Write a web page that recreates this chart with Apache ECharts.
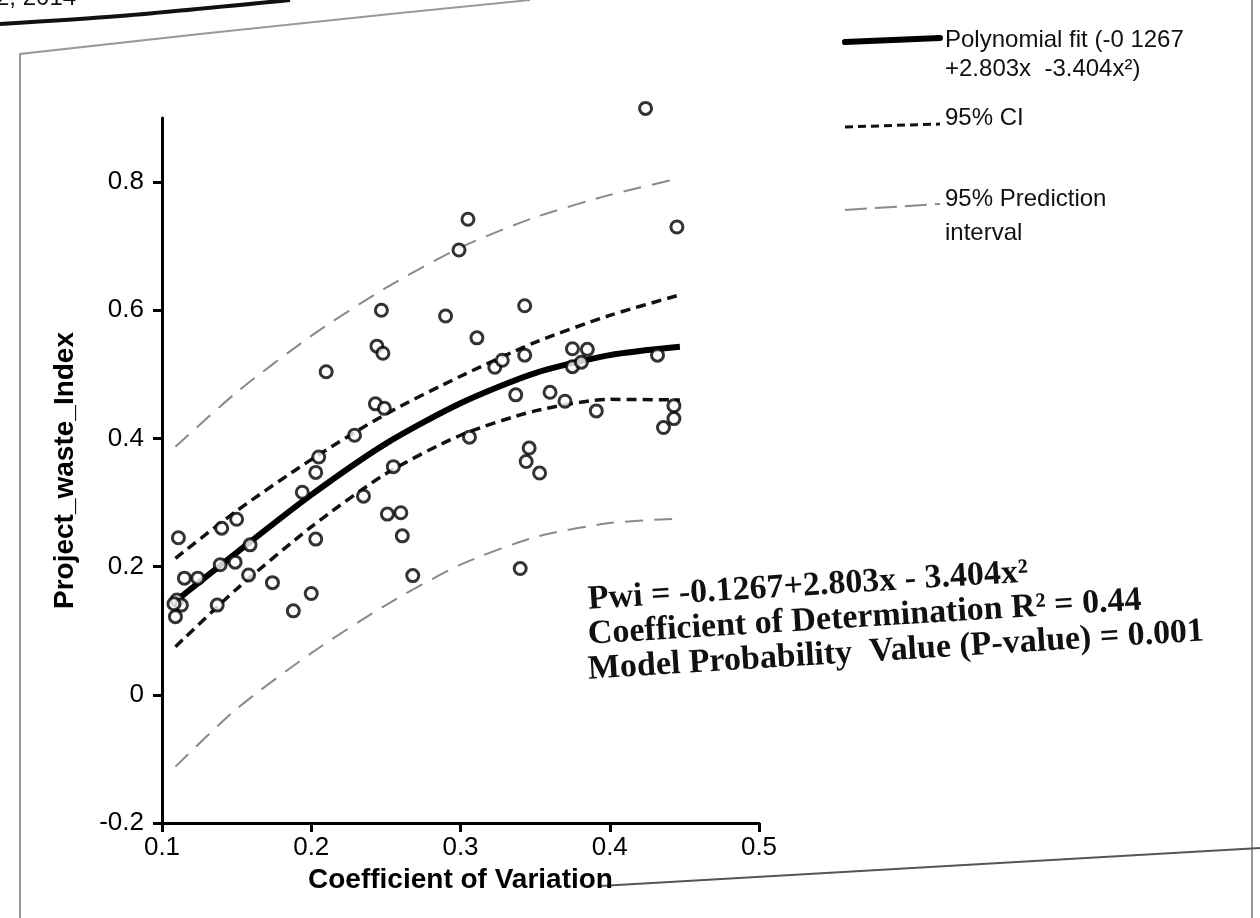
<!DOCTYPE html>
<html>
<head>
    <meta charset="utf-8">
    <title>Project waste index vs coefficient of variation</title>
    <style>
        html, body { margin: 0; padding: 0; background: #fff; }
        #main { width: 1260px; height: 918px; }
    </style>
</head>
<body>
<div id="main"></div>
<script src="https://cdn.jsdelivr.net/npm/echarts@6.0.0/dist/echarts.min.js"></script>
<script>
    var cvValues = [0.424, 0.305, 0.299, 0.445, 0.247, 0.290, 0.343, 0.311, 0.244, 0.248,
        0.210, 0.375, 0.385, 0.432, 0.375, 0.381, 0.323, 0.328, 0.343, 0.243,
        0.249, 0.229, 0.337, 0.360, 0.370, 0.391, 0.443, 0.443, 0.436, 0.306,
        0.346, 0.344, 0.353, 0.205, 0.203, 0.194, 0.255, 0.235, 0.251, 0.260,
        0.261, 0.203, 0.268, 0.340, 0.174, 0.200, 0.188, 0.137, 0.111, 0.140,
        0.150, 0.159, 0.149, 0.139, 0.115, 0.124, 0.158, 0.110, 0.113, 0.109, 0.108];
    var pwiValues = [0.915, 0.742, 0.694, 0.730, 0.600, 0.591, 0.607, 0.557, 0.544, 0.533,
        0.504, 0.540, 0.539, 0.530, 0.512, 0.519, 0.511, 0.522, 0.530, 0.454,
        0.447, 0.405, 0.468, 0.472, 0.458, 0.443, 0.451, 0.431, 0.417, 0.402,
        0.385, 0.364, 0.346, 0.371, 0.347, 0.316, 0.356, 0.310, 0.282, 0.284,
        0.248, 0.243, 0.186, 0.197, 0.175, 0.158, 0.131, 0.140, 0.245, 0.260,
        0.274, 0.234, 0.207, 0.203, 0.182, 0.182, 0.187, 0.148, 0.140, 0.122, 0.142];

    // curves
    var curveX = [0.109, 0.15, 0.2, 0.25, 0.3, 0.35, 0.4, 0.447];
    var fitY = [0.146, 0.222, 0.312, 0.392, 0.455, 0.502, 0.530, 0.543];
    var ciUpperY = [0.213, 0.287, 0.367, 0.438, 0.497, 0.550, 0.592, 0.624];
    var ciLowerY = [0.075, 0.165, 0.262, 0.345, 0.405, 0.443, 0.461, 0.460];
    var piUpperY = [0.387, 0.472, 0.560, 0.635, 0.698, 0.745, 0.780, 0.806];
    var piLowerY = [-0.112, -0.022, 0.065, 0.140, 0.203, 0.246, 0.268, 0.275];

    var yTicks = [-0.2, 0, 0.2, 0.4, 0.6, 0.8];

    function pairs(xs, ys) {
        var out = [];
        for (var i = 0; i < xs.length; i++) out.push([xs[i], ys[i]]);
        return out;
    }

    var chart = echarts.init(document.getElementById('main'), null, {renderer: 'canvas'});
    var sans = 'Liberation Sans, Arial, sans-serif';
    var serif = 'Liberation Serif, Times New Roman, serif';

    function curve(name, ys, color, width, dash) {
        return {
            name: name,
            type: 'line',
            smooth: 0.25,
            symbol: 'none',
            data: pairs(curveX, ys),
            lineStyle: {color: color, width: width, type: dash}
        };
    }

    var option = {
        backgroundColor: '#ffffff',
        animation: false,
        grid: {left: 162, right: 501, top: 118, bottom: 95},
        xAxis: {
            type: 'value',
            min: 0.1,
            max: 0.5,
            interval: 0.1,
            splitLine: {show: false},
            axisLine: {onZero: false, lineStyle: {color: '#000', width: 3}},
            axisTick: {show: true, length: 9, lineStyle: {color: '#000', width: 3}},
            axisLabel: {color: '#000', fontSize: 26, fontFamily: sans, margin: 12},
            name: 'Coefficient of Variation',
            nameLocation: 'middle',
            nameGap: 50,
            nameTextStyle: {color: '#000', fontSize: 28, fontWeight: 'bold', fontFamily: sans,
                align: 'center', verticalAlign: 'middle'}
        },
        yAxis: {
            type: 'value',
            min: -0.2,
            max: 0.9,
            splitLine: {show: false},
            axisLine: {onZero: false, lineStyle: {color: '#000', width: 3}},
            axisTick: {show: true, length: 9, customValues: yTicks, lineStyle: {color: '#000', width: 3}},
            axisLabel: {
                color: '#000', fontSize: 26, fontFamily: sans, margin: 18,
                customValues: yTicks,
                formatter: function (v) { return String(Math.round(v * 10) / 10); }
            },
            name: 'Project_waste_Index',
            nameLocation: 'middle',
            nameGap: 97,
            nameTextStyle: {color: '#000', fontSize: 28, fontWeight: 'bold', fontFamily: sans,
                align: 'center', verticalAlign: 'middle'}
        },
        series: [
            curve('95% Prediction interval', piUpperY, '#8a8a8a', 2, [18, 11]),
            curve('95% Prediction interval low', piLowerY, '#8a8a8a', 2, [18, 11]),
            curve('95% CI', ciUpperY, '#111', 3.5, [10, 6]),
            curve('95% CI low', ciLowerY, '#111', 3.5, [10, 6]),
            curve('Polynomial fit', fitY, '#000', 6, 'solid'),
            {
                name: 'Projects',
                type: 'scatter',
                z: 5,
                clip: false,
                symbol: 'circle',
                symbolSize: 12,
                data: pairs(cvValues, pwiValues),
                itemStyle: {color: '#fff', borderColor: '#000', borderWidth: 3}
            }
        ],
        graphic: [
            // bits of the scanned page
            {type: 'text', left: -4, top: -14, style: {text: '2, 2014', font: '24px ' + sans, fill: '#111'}},
            {type: 'polyline', shape: {points: [[0, 24], [120, 16], [290, 0]], smooth: 0.3},
                style: {stroke: '#111', lineWidth: 4, fill: null}},
            {type: 'polyline', shape: {points: [[20, 918], [20, 54], [200, 34], [400, 13], [530, 0]]},
                style: {stroke: '#999', lineWidth: 2, fill: null}},
            {type: 'line', shape: {x1: 1252, y1: 0, x2: 1252, y2: 918}, style: {stroke: '#999', lineWidth: 2}},
            {type: 'line', shape: {x1: 600, y1: 886, x2: 1260, y2: 848}, style: {stroke: '#555', lineWidth: 2}},

            // legend
            {type: 'line', shape: {x1: 845, y1: 42, x2: 940, y2: 38}, style: {stroke: '#000', lineWidth: 6, lineCap: 'round'}},
            {type: 'text', x: 945, y: 40, style: {text: 'Polynomial fit (-0 1267', font: '24px ' + sans, fill: '#111', verticalAlign: 'middle'}},
            {type: 'text', x: 945, y: 69, style: {text: '+2.803x  -3.404x\u00b2)', font: '24px ' + sans, fill: '#111', verticalAlign: 'middle'}},
            {type: 'line', shape: {x1: 845, y1: 127, x2: 940, y2: 124}, style: {stroke: '#111', lineWidth: 3, lineDash: [8, 5]}},
            {type: 'text', x: 945, y: 118, style: {text: '95% CI', font: '24px ' + sans, fill: '#111', verticalAlign: 'middle'}},
            {type: 'line', shape: {x1: 845, y1: 210, x2: 940, y2: 204}, style: {stroke: '#8a8a8a', lineWidth: 2, lineDash: [22, 8]}},
            {type: 'text', x: 945, y: 199, style: {text: '95% Prediction', font: '24px ' + sans, fill: '#111', verticalAlign: 'middle'}},
            {type: 'text', x: 945, y: 233, style: {text: 'interval', font: '24px ' + sans, fill: '#111', verticalAlign: 'middle'}},

            // model summary
            {type: 'text', x: 588, y: 600, rotation: 0.062,
                style: {text: 'Pwi = -0.1267+2.803x - 3.404x\u00b2', font: 'bold 34px ' + serif, fill: '#111', verticalAlign: 'middle'}},
            {type: 'text', x: 588, y: 635, rotation: 0.062,
                style: {text: 'Coefficient of Determination R\u00b2 = 0.44', font: 'bold 34px ' + serif, fill: '#111', verticalAlign: 'middle'}},
            {type: 'text', x: 588, y: 670, rotation: 0.062,
                style: {text: 'Model Probability  Value (P-value) = 0.001', font: 'bold 34px ' + serif, fill: '#111', verticalAlign: 'middle'}}
        ]
    };

    chart.setOption(option);
</script>
</body>
</html>
